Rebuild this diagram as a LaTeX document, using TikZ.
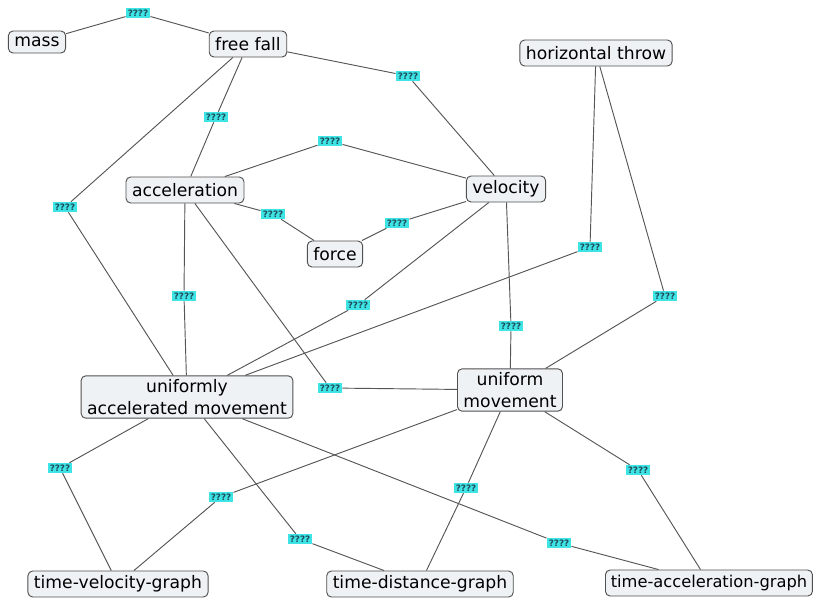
\documentclass[tikz,border=0pt]{standalone}
\usepackage{fontspec}
\setmainfont{DejaVu Sans}
\usepackage{tikz}
\usetikzlibrary{calc}

\definecolor{boxfill}{HTML}{EEF2F4}
\definecolor{boxline}{HTML}{505050}
\definecolor{linkfill}{HTML}{3EE3E3}
\definecolor{linktext}{HTML}{1E4B5C}
\definecolor{wirecol}{HTML}{555555}

\tikzset{
  concept/.style={draw=boxline, fill=boxfill, rounded corners=3.5pt,
    line width=0.7pt, inner xsep=4.5pt, inner ysep=2.4pt,
    minimum height=19.5pt, align=center,
    font=\fontsize{12.9}{17}\selectfont},
  linklabel/.style={fill=linkfill, text=linktext, inner xsep=1.5pt,
    inner ysep=1.3pt, font=\fontsize{6.6}{7}\selectfont\bfseries},
  wire/.style={draw=wirecol, line width=0.7pt}
}

\begin{document}
\begin{tikzpicture}[x=0.75pt, y=-0.75pt]
    \useasboundingbox (0,0) rectangle (818,601);
    \clip (0,0) rectangle (818,601);

    \node[concept, minimum height=16.5pt] (mass) at (37,42) {mass};
    \node[concept] (freefall) at (248,44) {free fall};
    \node[concept] (hthrow) at (596,53) {horizontal throw};
    \node[concept] (accel) at (185,190) {acceleration};
    \node[concept] (velocity) at (506,189) {velocity};
    \node[concept] (force) at (335,254) {force};
    \node[concept] (uam) at (187,397) {uniformly\\accelerated movement};
    \node[concept] (um) at (510,390) {uniform\\movement};
    \node[concept] (tvg) at (118,584) {time-velocity-graph};
    \node[concept] (tdg) at (420,584) {time-distance-graph};
    \node[concept, anchor=west, inner xsep=4pt,
          font=\fontsize{12.2}{17}\selectfont] (tag) at (605,583) {time-acceleration-graph};

    \foreach \n/\x/\y in {l1/138/13, l2/408/76, l3/216/117, l4/65/207,
                          l5/330/141, l6/273/214, l7/397/223, l8/358/305,
                          l9/590/247, l10/665/296, l11/184/296, l12/330/388,
                          l13/511/326, l14/60/468, l15/221/497, l16/300/539,
                          l17/466/488, l18/559/543, l19/638/470}
        \node[linklabel] (\n) at (\x,\y) {????};

    \foreach \a/\l/\b in {mass/l1/freefall, freefall/l2/velocity,
                          freefall/l3/accel, freefall/l4/uam,
                          accel/l5/velocity, accel/l6/force,
                          force/l7/velocity, velocity/l8/uam,
                          hthrow/l9/uam, hthrow/l10/um,
                          accel/l11/uam, accel/l12/um,
                          velocity/l13/um, uam/l14/tvg,
                          um/l15/tvg, uam/l16/tdg,
                          um/l17/tdg, uam/l18/tag,
                          um/l19/tag}
        \draw[wire] (\a) -- (\l) -- (\b);
\end{tikzpicture}
\end{document}
